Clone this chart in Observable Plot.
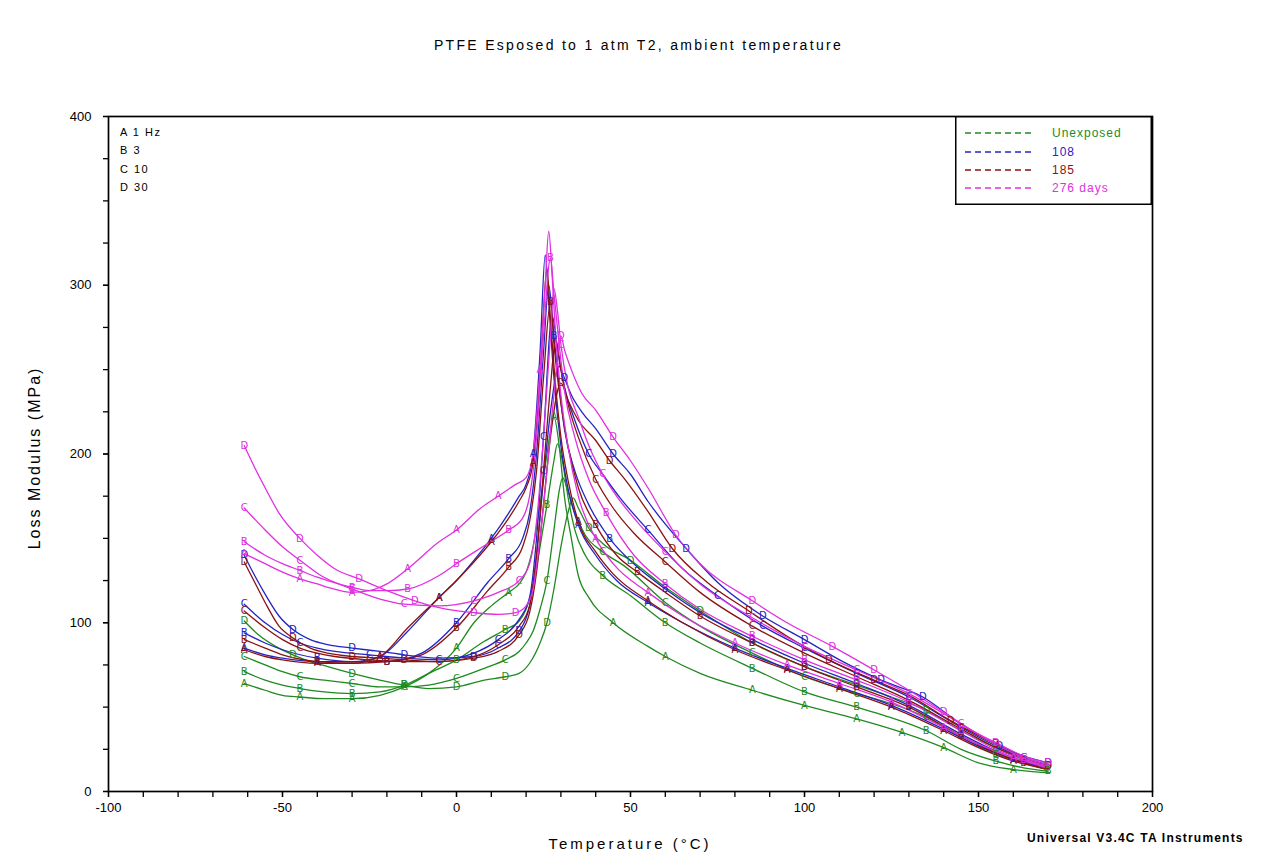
<!DOCTYPE html>
<html><head><meta charset="utf-8">
<script src="https://cdn.jsdelivr.net/npm/d3@7"></script>
<script src="https://cdn.jsdelivr.net/npm/@observablehq/plot@0.6"></script>
<style>
body{margin:0;background:#fff;font-family:"Liberation Sans",Arial,sans-serif;}
#wrap{position:relative;width:1277px;height:857px;overflow:hidden;}
#wrap svg.chart{position:absolute;left:0;top:0;}
.t{position:absolute;white-space:nowrap;color:#000;}
</style></head><body><div id="wrap"></div>
<script>
const groups = ["Unexposed", "108", "185", "276 days"];
const groupColors = ["#1f8a1f", "#2424c4", "#8b1212", "#e030e0"];
const freqLetters = ["A", "B", "C", "D"];
const freqLabels = ["A 1 Hz", "B 3", "C 10", "D 30"];
const xTicks = [-100, -50, 0, 50, 100, 150, 200];
const xMinorTicks = [-100,-90,-80,-70,-60,-50,-40,-30,-20,-10,0,10,20,30,40,50,60,70,80,90,100,110,120,130,140,150,160,170,180,190,200];
const yTicks = [0, 100, 200, 300, 400];
const yMinorTicks = [0,25,50,75,100,125,150,175,200,225,250,275,300,325,350,375,400];

// Unexposed (green)
const unexposedA = [[-61,64],[-55,60],[-50,57],[-45,56],[-38,55],[-30,55],[-22,57],[-15,62],[-8,70],[0,85],[5,100],[10,110],[15,118],[18,123],[20,130],[22,145],[24,170],[26,200],[28,222],[29.5,205],[31,175],[33,150],[35,128],[38,115],[45,100],[55,86],[60,80],[70,70],[85,60],[100,51],[115,43],[128,35],[140,26],[150,17],[160,13],[170,11]];
const unexposedB = [[-61,71],[-55,66],[-50,63],[-45,61],[-38,59],[-30,58],[-22,59],[-15,63],[-8,70],[0,78],[8,89],[14,96],[18,101],[20,108],[22,122],[24,145],[26,170],[28,196],[29,206],[30.5,195],[32,175],[34,155],[37,140],[42,128],[50,116],[60,100],[70,88],[85,73],[100,59],[115,50],[123,45],[135,36],[145,25],[155,18],[163,14],[170,12]];
const unexposedC = [[-61,80],[-55,75],[-50,71],[-45,68],[-38,66],[-30,64],[-22,62],[-15,62],[-8,63],[0,67],[8,73],[14,78],[18,83],[20,88],[22,95],[24,108],[26,125],[28,155],[29.5,178],[30.5,186],[32,178],[34,165],[37,152],[42,142],[48,134],[60,112],[70,98],[85,82],[100,68],[115,58],[125,52],[135,44],[145,32],[155,22],[163,17],[170,13]];
const unexposedD = [[-61,101],[-57,93],[-52,86],[-47,81],[-42,77],[-37,74],[-30,70],[-22,66],[-15,63],[-8,61],[0,62],[8,66],[14,68],[18,70],[21,76],[24,88],[26,100],[28,120],[30,145],[32,165],[33.5,174],[35,168],[38,156],[42,147],[50,137],[60,121],[70,107],[85,88],[100,74],[115,63],[125,56],[135,48],[145,36],[155,26],[163,20],[170,15]];
// 108 days (blue)
const days108A = [[-61,85],[-55,81],[-50,79],[-40,77],[-30,77],[-22,80],[-14,95],[-5,115],[0,125],[5,137],[10,150],[15,165],[18,175],[20,182],[22,200],[24,260],[25.5,318],[26.5,290],[28,245],[30,205],[32,180],[35,158],[40,140],[46,125],[55,112],[65,100],[80,85],[95,73],[110,62],[125,51],[140,37],[150,27],[160,19],[170,14]];
const days108B = [[-61,94],[-55,88],[-50,84],[-40,79],[-30,77],[-20,77],[-10,82],[0,100],[9,124],[15,138],[19,150],[21,165],[23,200],[25,260],[26.5,300],[28,270],[29.5,240],[31,215],[34,190],[38,170],[44,150],[52,133],[60,120],[70,106],[85,90],[100,76],[115,64],[130,51],[145,34],[155,24],[163,18],[170,14]];
const days108C = [[-61,111],[-55,100],[-50,93],[-45,88],[-40,85],[-35,83],[-25,81],[-15,79],[-5,78],[5,82],[12,90],[18,102],[21,115],[23,150],[25,210],[27.5,282],[29,262],[31,240],[34,220],[38,200],[42,188],[47,174],[55,155],[65,132],[75,116],[88,98],[100,85],[115,70],[130,56],[145,38],[155,27],[163,20],[170,16]];
const days108D = [[-61,140],[-58,128],[-55,117],[-51,104],[-47,96],[-42,90],[-37,87],[-30,85],[-22,83],[-15,81],[-5,79],[5,80],[12,85],[18,95],[21,110],[23,140],[25,185],[27,225],[29.5,252],[31,245],[33,235],[36,225],[40,215],[45,200],[50,188],[55,172],[66,144],[75,124],[88,104],[100,90],[111,77],[122,66],[134,56],[145,40],[156,27],[163,21],[170,17]];
// 185 days (brown)
const days185A = [[-61,84],[-55,80],[-50,78],[-40,76],[-30,76],[-22,80],[-14,97],[-5,115],[0,125],[5,136],[10,148],[15,162],[18,172],[20,180],[22,195],[24,245],[26,310],[27,280],[28.5,240],[30,210],[32,185],[35,160],[40,142],[45,129],[55,113],[65,100],[80,84],[95,72],[110,61],[125,50],[140,36],[150,26],[160,18],[170,13]];
const days185B = [[-61,90],[-55,85],[-50,81],[-40,77],[-30,76],[-20,77],[-10,81],[0,97],[9,119],[15,133],[19,145],[21,160],[23,190],[25,245],[27,290],[28,265],[30,230],[32,205],[35,180],[40,158],[46,140],[52,130],[60,118],[70,104],[85,88],[100,74],[115,62],[130,50],[145,33],[155,23],[163,17],[170,13]];
const days185C = [[-61,107],[-55,97],[-50,90],[-45,85],[-40,82],[-35,80],[-25,78],[-15,77],[-5,77],[5,80],[12,87],[18,98],[21,110],[23,140],[25,190],[27,240],[28.5,268],[30,250],[32,230],[35,210],[40,185],[45,168],[51,153],[60,136],[70,118],[85,98],[100,82],[115,68],[130,54],[145,37],[155,26],[163,19],[170,15]];
const days185D = [[-61,136],[-58,124],[-55,112],[-51,98],[-47,91],[-42,85],[-37,82],[-30,80],[-22,79],[-15,78],[-5,77],[5,79],[12,83],[18,93],[21,106],[23,130],[25,170],[27,210],[30,242],[32,232],[35,220],[40,208],[44,196],[48,186],[55,166],[62,144],[72,124],[84,107],[95,92],[107,78],[120,66],[130,57],[142,42],[155,28],[163,20],[170,15]];
// 276 days (magenta)
const days276A = [[-61,141],[-55,135],[-50,130],[-45,126],[-40,123],[-37,121],[-30,118],[-25,119],[-20,123],[-14,132],[-5,148],[0,155],[7,168],[12,175],[17,182],[20,186],[22,200],[24,250],[25.5,300],[26.5,332],[27.5,305],[28.5,270],[30,235],[32,205],[35,175],[40,150],[45,135],[55,118],[65,104],[80,88],[95,75],[110,64],[125,53],[140,38],[150,28],[160,20],[170,14]];
const days276B = [[-61,148],[-55,140],[-50,135],[-45,131],[-40,127],[-37,125],[-30,121],[-25,119],[-20,119],[-14,120],[-5,128],[0,135],[9,147],[15,155],[19,162],[21,175],[23,210],[25,270],[27,316],[28,295],[29.5,265],[31,238],[34,210],[38,185],[43,165],[51,140],[60,123],[70,108],[85,92],[100,78],[115,66],[130,53],[145,36],[155,25],[163,19],[170,15]];
const days276C = [[-61,168],[-55,155],[-50,145],[-45,137],[-39,128],[-30,120],[-22,114],[-15,111],[-5,110],[5,113],[12,118],[18,125],[21,135],[23,160],[25,210],[27,270],[28,298],[29,285],[30,265],[32,240],[35,222],[38,205],[42,188],[46,175],[51,162],[60,142],[70,123],[85,103],[100,86],[115,72],[130,58],[145,40],[155,28],[163,20],[170,16]];
const days276D = [[-61,205],[-58,192],[-55,180],[-51,165],[-45,150],[-40,140],[-35,132],[-28,126],[-20,119],[-12,113],[-5,109],[5,106],[12,105],[17,106],[20,110],[22,120],[24,150],[26,190],[28,235],[30,270],[31,262],[33,250],[36,236],[40,226],[45,210],[50,196],[55,180],[63,152],[70,135],[85,113],[95,100],[108,86],[120,72],[130,60],[140,47],[150,34],[155,29],[163,21],[170,17]];

const seriesTable = [
  [unexposedA, unexposedB, unexposedC, unexposedD],
  [days108A, days108B, days108C, days108D],
  [days185A, days185B, days185C, days185D],
  [days276A, days276B, days276C, days276D]
];

const rows = [];
const markRows = [];
seriesTable.forEach((set, gi) => {
  set.forEach((pts, fi) => {
    let last = -Infinity;
    pts.forEach(([t, v]) => {
      const r = {t, v, group: groups[gi], letter: freqLetters[fi], key: groups[gi] + freqLetters[fi]};
      rows.push(r);
      if (t >= last + 12) { markRows.push(r); last = t; }
    });
  });
});

const font = '"Liberation Sans", Arial, sans-serif';
const chart = Plot.plot({
  width: 1277, height: 857,
  marginLeft: 108, marginRight: 125, marginTop: 116, marginBottom: 66,
  x: {domain: [-100, 200]},
  y: {domain: [0, 400]},
  color: {domain: groups, range: groupColors},
  style: {fontFamily: font, fontSize: "13px", background: "white", color: "black"},
  marks: [
    Plot.line(rows, {x: "t", y: "v", z: "key", stroke: "group", curve: "monotone-x", strokeWidth: 1.3}),
    Plot.text(markRows, {x: "t", y: "v", text: "letter", fill: "group", fontSize: 10, fontFamily: "DejaVu Sans"}),
    Plot.axisX({ticks: xMinorTicks, tickSize: 6, tickFormat: () => "", label: null, strokeWidth: 1.3}),
    Plot.axisX({ticks: xTicks, tickSize: 6, tickPadding: 5, tickFormat: d => String(d), label: null, fontSize: 13, strokeWidth: 1.3}),
    Plot.axisY({ticks: yMinorTicks, tickSize: 5, tickFormat: () => "", label: null, strokeWidth: 1.3}),
    Plot.axisY({ticks: yTicks, tickSize: 5, tickPadding: 12, tickFormat: d => String(d), label: null, fontSize: 13, strokeWidth: 1.3}),
    Plot.frame({stroke: "black", strokeWidth: 1.7})
  ]
});
chart.classList.add("chart");
const wrap = document.getElementById("wrap");
wrap.appendChild(chart);

function addText(txt, css) {
  const d = document.createElement("div");
  d.className = "t";
  d.textContent = txt;
  d.style.cssText += css;
  wrap.appendChild(d);
  return d;
}
addText("PTFE Esposed to 1 atm T2, ambient temperature", "left:0;width:1277px;text-align:center;top:37px;font-size:14px;letter-spacing:2.3px;");
addText("Loss Modulus (MPa)", "left:35px;top:458px;font-size:16px;letter-spacing:2px;transform:translate(-50%,-50%) rotate(-90deg);");
addText("Temperature (°C)", "left:630px;top:843px;font-size:15px;letter-spacing:3px;transform:translate(-50%,-50%);");
addText("Universal V3.4C TA Instruments", "left:1027px;top:831px;font-size:12px;font-weight:bold;letter-spacing:1.2px;");

const freqY = [133, 151, 170, 188];
freqLabels.forEach((s, i) => addText(s, `left:120px;top:${freqY[i] - 7}px;font-size:11px;letter-spacing:1.5px;`));

// legend
const lg = document.createElementNS("http://www.w3.org/2000/svg", "svg");
lg.setAttribute("width", 197); lg.setAttribute("height", 89);
lg.style.cssText = "position:absolute;left:955px;top:116px;";
let inner = `<rect x="0.75" y="0.75" width="195.5" height="87.5" fill="white" stroke="black" stroke-width="1.5"/>`;
const rowY = [17, 36, 54, 72];
groups.forEach((g, i) => {
  inner += `<line x1="10" x2="80" y1="${rowY[i]}" y2="${rowY[i]}" stroke="${groupColors[i]}" stroke-width="1.3" stroke-dasharray="6,4"/>`;
  inner += `<text x="97" y="${rowY[i] + 4}" fill="${groupColors[i]}" font-size="12" letter-spacing="1" font-family='${font}'>${g}</text>`;
});
lg.innerHTML = inner;
wrap.appendChild(lg);
</script></body></html>
